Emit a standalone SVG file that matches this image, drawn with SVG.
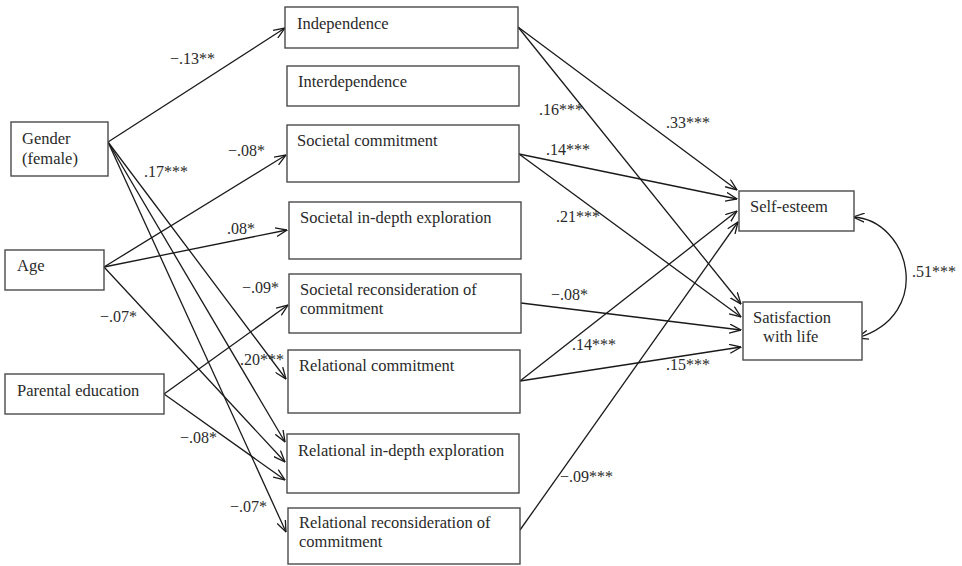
<svg xmlns="http://www.w3.org/2000/svg" width="962" height="566" viewBox="0 0 962 566">
<style>
  .box { fill: #ffffff; stroke: #4a4a4a; stroke-width: 1.4; }
  .t { font-family: "Liberation Serif", "Times New Roman", serif; font-size: 16.5px; fill: #2a2a2a; }
  .lbl { font-family: "Liberation Serif", "Times New Roman", serif; font-size: 16px; fill: #2a2a2a; }
  .c { fill: none; stroke: #1a1a1a; stroke-width: 1.3; marker-end: url(#arr); }
</style>
<defs>
  <marker id="arr" viewBox="0 0 12 10" refX="11.5" refY="5" markerWidth="12" markerHeight="10" markerUnits="userSpaceOnUse" orient="auto-start-reverse">
    <path d="M0,0.5 L11.5,5 L0,9.5" fill="none" stroke="#1a1a1a" stroke-width="1.3"/>
  </marker>
</defs>
<rect width="962" height="566" fill="#ffffff"/>

<g id="connectors">
  <path class="c" d="M108,142 L285,28"/>
  <path class="c" d="M108,142 L286,379"/>
  <path class="c" d="M108,142 L285,442"/>
  <path class="c" d="M108,142 L286,532"/>
  <path class="c" d="M104,267 L286,155"/>
  <path class="c" d="M104,267 L287,230"/>
  <path class="c" d="M104,267 L285,462"/>
  <path class="c" d="M164,394 L288,305"/>
  <path class="c" d="M164,394 L285,480"/>
  <path class="c" d="M518,27 L737,190"/>
  <path class="c" d="M518,27 L741,304"/>
  <path class="c" d="M519,154 L737,199"/>
  <path class="c" d="M519,154 L741,317"/>
  <path class="c" d="M521,303 L741,330"/>
  <path class="c" d="M520,381 L737,211"/>
  <path class="c" d="M520,381 L741,347"/>
  <path class="c" d="M520,530 L738,222"/>
  <path class="c" d="M853,217 C910,220 935,315 857,338" marker-start="url(#arr)"/>
</g>

<g id="labels">
  <text class="lbl" x="170" y="64">−.13**</text>
  <text class="lbl" x="228" y="156">−.08*</text>
  <text class="lbl" x="144" y="177">.17***</text>
  <text class="lbl" x="227" y="234">.08*</text>
  <text class="lbl" x="242" y="293">−.09*</text>
  <text class="lbl" x="100" y="322">−.07*</text>
  <text class="lbl" x="240" y="365">.20***</text>
  <text class="lbl" x="180" y="443">−.08*</text>
  <text class="lbl" x="230" y="512">−.07*</text>
  <text class="lbl" x="539" y="115">.16***</text>
  <text class="lbl" x="666" y="128">.33***</text>
  <text class="lbl" x="546" y="155">.14***</text>
  <text class="lbl" x="556" y="222">.21***</text>
  <text class="lbl" x="551" y="300">−.08*</text>
  <text class="lbl" x="572" y="350">.14***</text>
  <text class="lbl" x="666" y="370">.15***</text>
  <text class="lbl" x="560" y="482">−.09***</text>
  <text class="lbl" x="912" y="277">.51***</text>
</g>

<g id="gender">
  <rect class="box" x="11" y="122" width="97" height="54"/>
  <text class="t" x="22" y="144">Gender</text>
  <text class="t" x="22" y="164">(female)</text>
</g>
<g id="age">
  <rect class="box" x="5" y="250" width="99" height="40"/>
  <text class="t" x="17" y="271">Age</text>
</g>
<g id="parental">
  <rect class="box" x="5" y="374" width="159" height="40"/>
  <text class="t" x="17" y="396">Parental education</text>
</g>
<g id="independence">
  <rect class="box" x="285" y="7" width="233" height="41"/>
  <text class="t" x="297" y="29">Independence</text>
</g>
<g id="interdependence">
  <rect class="box" x="287" y="66" width="232" height="40"/>
  <text class="t" x="298" y="87">Interdependence</text>
</g>
<g id="soc-commit">
  <rect class="box" x="287" y="125" width="232" height="57"/>
  <text class="t" x="297" y="146">Societal commitment</text>
</g>
<g id="soc-indepth">
  <rect class="box" x="289" y="202" width="232" height="57"/>
  <text class="t" x="300" y="223">Societal in-depth exploration</text>
</g>
<g id="soc-recon">
  <rect class="box" x="289" y="274" width="232" height="59"/>
  <text class="t" x="300" y="295">Societal reconsideration of</text>
  <text class="t" x="300" y="314">commitment</text>
</g>
<g id="rel-commit">
  <rect class="box" x="288" y="350" width="232" height="63"/>
  <text class="t" x="299" y="371">Relational commitment</text>
</g>
<g id="rel-indepth">
  <rect class="box" x="287" y="434" width="232" height="59"/>
  <text class="t" x="298" y="456">Relational in-depth exploration</text>
</g>
<g id="rel-recon">
  <rect class="box" x="288" y="508" width="232" height="56"/>
  <text class="t" x="299" y="528">Relational reconsideration of</text>
  <text class="t" x="299" y="547">commitment</text>
</g>
<g id="self-esteem">
  <rect class="box" x="739" y="191" width="115" height="40"/>
  <text class="t" x="750" y="212">Self-esteem</text>
</g>
<g id="satisfaction">
  <rect class="box" x="743" y="302" width="119" height="58"/>
  <text class="t" x="753" y="323">Satisfaction</text>
  <text class="t" x="763" y="342">with life</text>
</g>
</svg>
